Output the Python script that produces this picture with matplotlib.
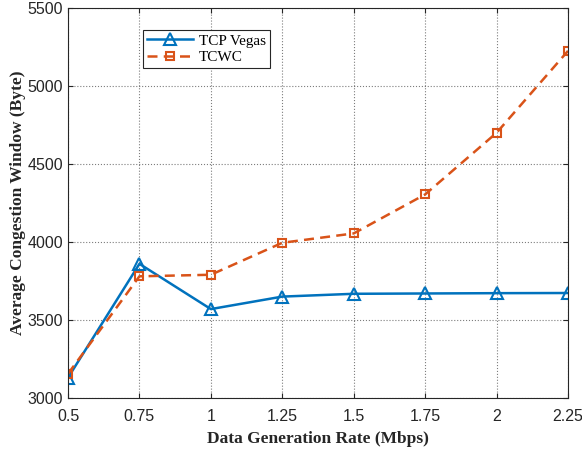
import numpy as np
import matplotlib.pyplot as plt

rate = [0.5, 0.75, 1, 1.25, 1.5, 1.75, 2, 2.25]
vegas = [3130, 3860, 3570, 3650, 3668, 3670, 3672, 3673]
tcwc = [3155, 3780, 3790, 3995, 4055, 4305, 4700, 5225]

plt.rcParams['font.family'] = ['Liberation Sans', 'DejaVu Sans']

fig = plt.figure(figsize=(5.82, 4.5), dpi=100)
ax = fig.add_axes([68/582, 1-398/450, 500/582, 390/450])

ax.plot(rate, vegas, '-', color='#0072BD', linewidth=1.8, marker='^',
        markersize=8, markerfacecolor='none', markeredgewidth=1.5, label='TCP Vegas')
ax.plot(rate, tcwc, color='#D95319', linewidth=1.8, linestyle=(0, (4, 2.5)), marker='s',
        markersize=6, markerfacecolor='none', markeredgewidth=1.5, label='TCWC')

ax.set_xlim(0.5, 2.25)
ax.set_ylim(3000, 5500)
ax.set_xticks(rate)
ax.set_xticklabels(['0.5', '0.75', '1', '1.25', '1.5', '1.75', '2', '2.25'])
ax.set_yticks(np.arange(3000, 5501, 500))
ax.tick_params(direction='in', top=True, right=True, labelsize=11.5, color='#262626', labelcolor='#262626')
ax.tick_params(axis='x', pad=8)
ax.grid(True, linestyle=':', color='#262626', linewidth=0.8, alpha=0.6)
for s in ax.spines.values():
    s.set_color('#262626')
    s.set_linewidth(0.8)

ax.set_xlabel('Data Generation Rate (Mbps)', family='Liberation Serif', fontweight='bold',
              fontsize=12.5, color='#262626', labelpad=5)
ax.set_ylabel('Average Congestion Window (Byte)', family='Liberation Serif', fontweight='bold',
              fontsize=12.5, color='#262626', labelpad=1)

leg = ax.legend(loc='upper left', bbox_to_anchor=((143-68)/500, 1-(30-8)/390), fancybox=False,
                edgecolor='#262626', framealpha=1, handlelength=3.0, borderaxespad=0,
                prop={'family': 'Liberation Serif', 'size': 11}, borderpad=0.25,
                labelspacing=0.2, handletextpad=0.4)
leg.get_frame().set_linewidth(0.8)

fig.savefig('out.png', dpi=100)
